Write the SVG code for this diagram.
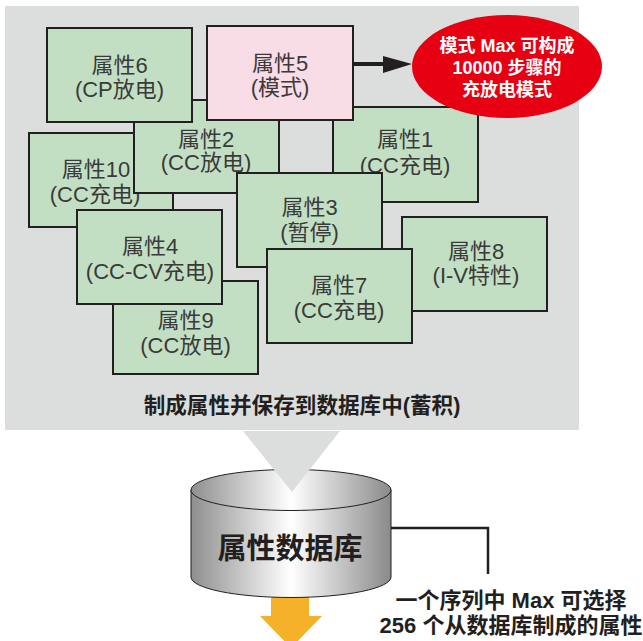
<svg xmlns="http://www.w3.org/2000/svg" width="643" height="641" viewBox="0 0 643 641">
<style>
.box{fill:#c2dfc4;stroke:#231f20;stroke-width:2}
.pink{fill:#f8dce6;stroke:#231f20;stroke-width:2}
.t{font-family:"Liberation Sans","Noto Sans CJK SC",sans-serif;font-size:22px;fill:#3a3a3a;text-anchor:middle}
.b{font-family:"Liberation Sans","Noto Sans CJK SC",sans-serif;font-weight:bold;fill:#231f20;text-anchor:middle}
.w{font-family:"Liberation Sans","Noto Sans CJK SC",sans-serif;font-weight:bold;font-size:18px;fill:#fff;text-anchor:middle}
.ln{fill:none;stroke:#231f20}
</style>
<defs>
<linearGradient id="cyl" x1="0" y1="0" x2="1" y2="0">
<stop offset="0" stop-color="#8e8e8e"/>
<stop offset="0.5" stop-color="#ffffff"/>
<stop offset="1" stop-color="#8a8a8a"/>
</linearGradient>
</defs>
<rect x="5" y="6" width="574" height="424" fill="#dcdedd"/>
<g id="box10"><rect class="box" x="29" y="133" width="144" height="94"/><text class="t" x="96" y="177">属性10</text><text class="t" x="95" y="202">(CC充电)</text></g>
<g id="box9"><rect class="box" x="113" y="281" width="145" height="93"/><text class="t" x="185.5" y="328">属性9</text><text class="t" x="185.5" y="353">(CC放电)</text></g>
<g id="box8"><rect class="box" x="402" y="217" width="145" height="94"/><text class="t" x="476" y="259">属性8</text><text class="t" x="476" y="283">(I-V特性)</text></g>
<g id="box1"><rect class="box" x="333" y="107" width="145" height="95"/><text class="t" x="405" y="147">属性1</text><text class="t" x="405" y="173">(CC充电)</text></g>
<g id="box2"><rect class="box" x="134" y="100" width="145" height="93"/><text class="t" x="206" y="147">属性2</text><text class="t" x="206" y="170">(CC放电)</text></g>
<g id="box6"><rect class="box" x="47" y="28" width="145" height="94"/><text class="t" x="119.5" y="73">属性6</text><text class="t" x="119.5" y="97">(CP放电)</text></g>
<g id="box5"><rect class="pink" x="207" y="26" width="146" height="94"/><text class="t" x="280" y="71">属性5</text><text class="t" x="280" y="95">(模式)</text></g>
<g id="box3"><rect class="box" x="237" y="173" width="145" height="94"/><text class="t" x="309.5" y="215">属性3</text><text class="t" x="309.5" y="240">(暂停)</text></g>
<g id="box4"><rect class="box" x="77" y="210" width="145" height="94"/><text class="t" x="150" y="254">属性4</text><text class="t" x="150" y="279">(CC-CV充电)</text></g>
<g id="box7"><rect class="box" x="267" y="249" width="145" height="94"/><text class="t" x="339" y="293">属性7</text><text class="t" x="339" y="318">(CC充电)</text></g>
<g id="connectors">
<line class="ln" x1="353" y1="64" x2="386" y2="64" stroke-width="4"/>
<polygon points="383,56 412,64 383,73" fill="#231f20"/>
<polyline class="ln" points="391,528 488,528 488,574" stroke-width="2.5"/>
</g>
<g id="note"><ellipse cx="507" cy="66.5" rx="95" ry="51.5" fill="#e60012"/>
<text class="w" x="507" y="52">模式 Max 可构成</text>
<text class="w" x="507" y="74">10000 步骤的</text>
<text class="w" x="507" y="96">充放电模式</text></g>
<text class="b" x="302" y="413" font-size="21.6">制成属性并保存到数据库中(蓄积)</text>
<g id="arrow"><polygon points="271,590 309,590 309,616 322,616 291,648 260,616 271,616" fill="#f6b12a"/></g>
<g id="db">
<path d="M191,490 L191,577 A100,20.5 0 0 0 391,577 L391,490 Z" fill="url(#cyl)" stroke="#231f20" stroke-width="1"/>
<ellipse cx="291" cy="490" rx="100" ry="20.5" fill="url(#cyl)" stroke="#231f20" stroke-width="1"/>
<polygon points="243,431 340,431 292,492" fill="#dcdedd"/>
<text class="b" x="290" y="559" font-size="29">属性数据库</text>
</g>
<text class="b" x="511" y="608" font-size="22">一个序列中 Max 可选择</text>
<text class="b" x="511" y="633" font-size="22">256 个从数据库制成的属性</text>
</svg>
